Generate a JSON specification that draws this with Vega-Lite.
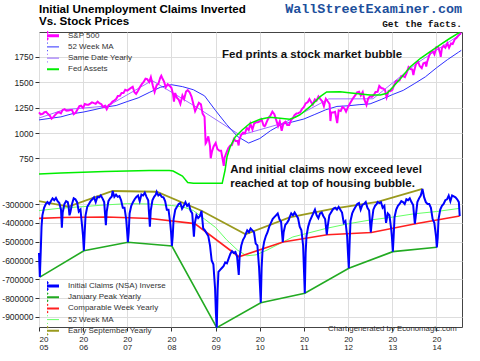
{
"$schema": "https://vega.github.io/schema/vega-lite/v6.json",
"width": 423, "height": 295,
"autosize": {"type": "none"},
"padding": {"left": 39, "top": 32, "right": 18, "bottom": 34},
"background": "white",
"config": {
 "font": "Liberation Sans",
 "view": {"stroke": "#444", "strokeWidth": 1},
 "axis": {"gridColor": "#dddddd", "gridWidth": 1, "domain": false, "tickColor": "#333", "tickSize": 4, "labelFont": "Liberation Sans", "labelFontSize": 8.5, "labelColor": "#222", "labelPadding": 2, "title": null}
},
"datasets": {
 "sp": [
{"date":"2005-01-01","value":1205},{"date":"2005-01-15","value":1184},{"date":"2005-02-01","value":1190},{"date":"2005-02-15","value":1206},{"date":"2005-03-01","value":1210},{"date":"2005-03-15","value":1190},{"date":"2005-04-01","value":1172},{"date":"2005-04-15","value":1142},{"date":"2005-05-01","value":1160},{"date":"2005-05-15","value":1180},{"date":"2005-06-01","value":1200},{"date":"2005-06-15","value":1206},{"date":"2005-07-01","value":1194},{"date":"2005-07-15","value":1228},{"date":"2005-08-01","value":1236},{"date":"2005-08-15","value":1220},{"date":"2005-09-01","value":1222},{"date":"2005-09-15","value":1228},{"date":"2005-10-01","value":1228},{"date":"2005-10-15","value":1186},{"date":"2005-11-01","value":1202},{"date":"2005-11-15","value":1232},{"date":"2005-12-01","value":1265},{"date":"2005-12-15","value":1270},
{"date":"2006-01-01","value":1248},{"date":"2006-01-15","value":1287},{"date":"2006-02-01","value":1280},{"date":"2006-02-15","value":1280},{"date":"2006-03-01","value":1291},{"date":"2006-03-15","value":1303},{"date":"2006-04-01","value":1295},{"date":"2006-04-15","value":1289},{"date":"2006-05-01","value":1310},{"date":"2006-05-15","value":1294},{"date":"2006-06-01","value":1285},{"date":"2006-06-15","value":1256},{"date":"2006-07-01","value":1270},{"date":"2006-07-15","value":1236},{"date":"2006-08-01","value":1277},{"date":"2006-08-15","value":1285},{"date":"2006-09-01","value":1311},{"date":"2006-09-15","value":1320},{"date":"2006-10-01","value":1335},{"date":"2006-10-15","value":1365},{"date":"2006-11-01","value":1367},{"date":"2006-11-15","value":1396},{"date":"2006-12-01","value":1396},{"date":"2006-12-15","value":1427},
{"date":"2007-01-01","value":1418},{"date":"2007-01-15","value":1431},{"date":"2007-02-01","value":1445},{"date":"2007-02-15","value":1456},{"date":"2007-03-01","value":1403},{"date":"2007-03-15","value":1387},{"date":"2007-04-01","value":1420},{"date":"2007-04-15","value":1452},{"date":"2007-05-01","value":1482},{"date":"2007-05-15","value":1501},{"date":"2007-06-01","value":1536},{"date":"2007-06-15","value":1532},{"date":"2007-07-01","value":1503},{"date":"2007-07-15","value":1552},{"date":"2007-08-01","value":1465},{"date":"2007-08-15","value":1406},{"date":"2007-09-01","value":1473},{"date":"2007-09-15","value":1484},{"date":"2007-10-01","value":1547},{"date":"2007-10-09","value":1565},{"date":"2007-10-15","value":1548},{"date":"2007-11-01","value":1508},{"date":"2007-11-15","value":1451},{"date":"2007-12-01","value":1481},{"date":"2007-12-15","value":1468},
{"date":"2008-01-01","value":1447},{"date":"2008-01-15","value":1380},{"date":"2008-01-22","value":1310},{"date":"2008-02-01","value":1395},{"date":"2008-02-15","value":1349},{"date":"2008-03-01","value":1331},{"date":"2008-03-15","value":1288},{"date":"2008-04-01","value":1370},{"date":"2008-04-15","value":1335},{"date":"2008-05-01","value":1409},{"date":"2008-05-15","value":1423},{"date":"2008-06-01","value":1400},{"date":"2008-06-15","value":1360},{"date":"2008-07-01","value":1284},{"date":"2008-07-15","value":1215},{"date":"2008-08-01","value":1260},{"date":"2008-08-15","value":1298},{"date":"2008-09-01","value":1283},{"date":"2008-09-15","value":1192},{"date":"2008-10-01","value":1161},{"date":"2008-10-10","value":899},{"date":"2008-10-15","value":908},{"date":"2008-11-01","value":968},{"date":"2008-11-15","value":873},{"date":"2008-11-21","value":752},{"date":"2008-12-01","value":816},{"date":"2008-12-15","value":868},
{"date":"2009-01-01","value":903},{"date":"2009-01-15","value":843},{"date":"2009-02-01","value":826},{"date":"2009-02-15","value":826},{"date":"2009-03-01","value":735},{"date":"2009-03-09","value":677},{"date":"2009-03-15","value":756},{"date":"2009-04-01","value":811},{"date":"2009-04-15","value":852},{"date":"2009-05-01","value":877},{"date":"2009-05-15","value":882},{"date":"2009-06-01","value":942},{"date":"2009-06-15","value":923},{"date":"2009-07-01","value":923},{"date":"2009-07-10","value":879},{"date":"2009-07-15","value":932},{"date":"2009-08-01","value":987},{"date":"2009-08-15","value":1004},{"date":"2009-09-01","value":998},{"date":"2009-09-15","value":1052},{"date":"2009-10-01","value":1030},{"date":"2009-10-15","value":1092},{"date":"2009-11-01","value":1036},{"date":"2009-11-15","value":1093},{"date":"2009-12-01","value":1108},{"date":"2009-12-15","value":1107},
{"date":"2010-01-01","value":1115},{"date":"2010-01-15","value":1136},{"date":"2010-02-01","value":1074},{"date":"2010-02-10","value":1068},{"date":"2010-02-15","value":1075},{"date":"2010-03-01","value":1115},{"date":"2010-03-15","value":1150},{"date":"2010-04-01","value":1178},{"date":"2010-04-15","value":1211},{"date":"2010-05-01","value":1187},{"date":"2010-05-15","value":1135},{"date":"2010-06-01","value":1070},{"date":"2010-06-15","value":1116},{"date":"2010-07-01","value":1023},{"date":"2010-07-15","value":1096},{"date":"2010-08-01","value":1112},{"date":"2010-08-15","value":1079},{"date":"2010-09-01","value":1080},{"date":"2010-09-15","value":1125},{"date":"2010-10-01","value":1146},{"date":"2010-10-15","value":1176},{"date":"2010-11-01","value":1193},{"date":"2010-11-15","value":1197},{"date":"2010-12-01","value":1206},{"date":"2010-12-15","value":1236},
{"date":"2011-01-01","value":1258},{"date":"2011-01-15","value":1293},{"date":"2011-02-01","value":1304},{"date":"2011-02-15","value":1336},{"date":"2011-03-01","value":1306},{"date":"2011-03-15","value":1281},{"date":"2011-04-01","value":1332},{"date":"2011-04-15","value":1319},{"date":"2011-05-01","value":1361},{"date":"2011-05-15","value":1337},{"date":"2011-06-01","value":1314},{"date":"2011-06-15","value":1265},{"date":"2011-07-01","value":1339},{"date":"2011-07-15","value":1316},{"date":"2011-08-01","value":1287},{"date":"2011-08-08","value":1119},{"date":"2011-08-15","value":1204},{"date":"2011-09-01","value":1204},{"date":"2011-09-15","value":1209},{"date":"2011-10-03","value":1099},{"date":"2011-10-15","value":1224},{"date":"2011-11-01","value":1218},{"date":"2011-11-15","value":1257},{"date":"2011-12-01","value":1244},{"date":"2011-12-15","value":1212},
{"date":"2012-01-01","value":1258},{"date":"2012-01-15","value":1289},{"date":"2012-02-01","value":1324},{"date":"2012-02-15","value":1350},{"date":"2012-03-01","value":1374},{"date":"2012-03-15","value":1402},{"date":"2012-04-01","value":1408},{"date":"2012-04-15","value":1370},{"date":"2012-05-01","value":1405},{"date":"2012-05-15","value":1330},{"date":"2012-06-01","value":1278},{"date":"2012-06-15","value":1342},{"date":"2012-07-01","value":1362},{"date":"2012-07-15","value":1356},{"date":"2012-08-01","value":1375},{"date":"2012-08-15","value":1405},{"date":"2012-09-01","value":1406},{"date":"2012-09-15","value":1465},{"date":"2012-10-01","value":1444},{"date":"2012-10-15","value":1440},{"date":"2012-11-01","value":1427},{"date":"2012-11-15","value":1353},{"date":"2012-12-01","value":1416},{"date":"2012-12-15","value":1413},
{"date":"2013-01-01","value":1426},{"date":"2013-01-15","value":1472},{"date":"2013-02-01","value":1513},{"date":"2013-02-15","value":1519},{"date":"2013-03-01","value":1518},{"date":"2013-03-15","value":1560},{"date":"2013-04-01","value":1562},{"date":"2013-04-15","value":1552},{"date":"2013-05-01","value":1597},{"date":"2013-05-15","value":1650},{"date":"2013-06-01","value":1631},{"date":"2013-06-15","value":1626},{"date":"2013-06-24","value":1573},{"date":"2013-07-01","value":1615},{"date":"2013-07-15","value":1680},{"date":"2013-08-01","value":1706},{"date":"2013-08-15","value":1661},{"date":"2013-09-01","value":1640},{"date":"2013-09-15","value":1688},{"date":"2013-10-01","value":1695},{"date":"2013-10-08","value":1655},{"date":"2013-10-15","value":1698},{"date":"2013-11-01","value":1762},{"date":"2013-11-15","value":1798},{"date":"2013-12-01","value":1806},{"date":"2013-12-15","value":1775},
{"date":"2014-01-01","value":1848},{"date":"2014-01-15","value":1848},{"date":"2014-02-01","value":1782},{"date":"2014-02-05","value":1751},{"date":"2014-02-15","value":1838},{"date":"2014-03-01","value":1859},{"date":"2014-03-15","value":1841},{"date":"2014-04-01","value":1885},{"date":"2014-04-15","value":1842},{"date":"2014-05-01","value":1883},{"date":"2014-05-15","value":1878},{"date":"2014-06-01","value":1924},{"date":"2014-06-15","value":1937},{"date":"2014-07-01","value":1960},{"date":"2014-07-15","value":1981},{"date":"2014-07-25","value":1978}
 ],
 "spma": [
{"date":"2005-01-01","value":1130},{"date":"2005-04-01","value":1145},{"date":"2005-07-01","value":1160},{"date":"2005-10-01","value":1190},{"date":"2006-01-01","value":1207},{"date":"2006-04-01","value":1230},{"date":"2006-07-01","value":1256},{"date":"2006-10-01","value":1272},{"date":"2007-01-01","value":1311},{"date":"2007-04-01","value":1347},{"date":"2007-07-01","value":1400},{"date":"2007-10-01","value":1451},{"date":"2008-01-01","value":1477},{"date":"2008-04-01","value":1458},{"date":"2008-07-01","value":1427},{"date":"2008-10-01","value":1367},{"date":"2009-01-01","value":1221},{"date":"2009-04-01","value":1086},{"date":"2009-07-01","value":966},{"date":"2009-10-01","value":902},{"date":"2010-01-01","value":947},{"date":"2010-04-01","value":1025},{"date":"2010-07-01","value":1086},{"date":"2010-10-01","value":1111},{"date":"2011-01-01","value":1139},{"date":"2011-04-01","value":1184},{"date":"2011-07-01","value":1230},{"date":"2011-10-01","value":1263},{"date":"2012-01-01","value":1269},{"date":"2012-04-01","value":1280},{"date":"2012-07-01","value":1288},{"date":"2012-10-01","value":1331},{"date":"2013-01-01","value":1379},{"date":"2013-04-01","value":1421},{"date":"2013-07-01","value":1486},{"date":"2013-10-01","value":1554},{"date":"2014-01-01","value":1643},{"date":"2014-04-01","value":1723},{"date":"2014-07-01","value":1796},{"date":"2014-07-25","value":1815}
 ],
 "spsame": [
{"date":"2004-07-26","value":1085},{"date":"2005-07-25","value":1230},{"date":"2006-07-25","value":1268},{"date":"2007-07-25","value":1518},{"date":"2008-07-25","value":1257},{"date":"2009-07-24","value":979},{"date":"2010-07-23","value":1102},{"date":"2011-07-25","value":1337},{"date":"2012-07-25","value":1338},{"date":"2013-07-25","value":1690},{"date":"2014-07-25","value":1978}
 ],
 "fed": [
{"date":"2005-01-01","value":699},{"date":"2005-07-01","value":723},{"date":"2006-07-01","value":760},{"date":"2007-07-01","value":784},{"date":"2007-12-15","value":784},{"date":"2008-01-15","value":772},{"date":"2008-04-01","value":650},{"date":"2008-05-15","value":492},{"date":"2008-07-01","value":473},{"date":"2009-02-24","value":473},{"date":"2009-03-20","value":796},{"date":"2009-04-05","value":1119},{"date":"2009-05-01","value":1362},{"date":"2009-06-13","value":1606},{"date":"2009-08-08","value":1768},{"date":"2009-10-12","value":1931},{"date":"2010-01-04","value":2029},{"date":"2010-03-25","value":2077},{"date":"2010-06-18","value":2053},{"date":"2010-09-05","value":2029},{"date":"2010-10-20","value":2077},{"date":"2010-11-28","value":2133},{"date":"2011-02-20","value":2335},{"date":"2011-05-15","value":2578},{"date":"2011-07-08","value":2692},{"date":"2011-10-27","value":2700},{"date":"2012-02-14","value":2661},{"date":"2012-07-01","value":2619},{"date":"2012-09-23","value":2619},{"date":"2012-11-18","value":2661},{"date":"2013-01-08","value":2821},{"date":"2013-03-22","value":3064},{"date":"2013-05-30","value":3307},{"date":"2013-08-22","value":3511},{"date":"2013-11-10","value":3672},{"date":"2014-01-30","value":3835},{"date":"2014-04-23","value":3998},{"date":"2014-07-12","value":4140}
 ],
 "claims": [
{"date":"2005-01-01","value":-560000},{"date":"2005-01-08","value":-688000},{"date":"2005-01-15","value":-560000},{"date":"2005-01-22","value":-420000},{"date":"2005-01-29","value":-360000},{"date":"2005-02-12","value":-320000},{"date":"2005-02-26","value":-300000},{"date":"2005-03-12","value":-290000},{"date":"2005-03-26","value":-300000},{"date":"2005-04-09","value":-285000},{"date":"2005-04-23","value":-270000},{"date":"2005-05-07","value":-280000},{"date":"2005-05-21","value":-268000},{"date":"2005-06-04","value":-285000},{"date":"2005-06-18","value":-295000},{"date":"2005-07-02","value":-330000},{"date":"2005-07-09","value":-426000},{"date":"2005-07-16","value":-345000},{"date":"2005-07-30","value":-300000},{"date":"2005-08-13","value":-285000},{"date":"2005-08-27","value":-290000},{"date":"2005-09-03","value":-314000},{"date":"2005-09-10","value":-360000},{"date":"2005-09-17","value":-345000},{"date":"2005-10-01","value":-300000},{"date":"2005-10-15","value":-270000},{"date":"2005-10-29","value":-275000},{"date":"2005-11-12","value":-290000},{"date":"2005-11-26","value":-340000},{"date":"2005-12-10","value":-330000},{"date":"2005-12-24","value":-420000},{"date":"2005-12-31","value":-470000},
{"date":"2006-01-07","value":-548000},{"date":"2006-01-14","value":-450000},{"date":"2006-01-21","value":-360000},{"date":"2006-02-04","value":-315000},{"date":"2006-02-18","value":-300000},{"date":"2006-03-04","value":-285000},{"date":"2006-03-18","value":-275000},{"date":"2006-04-01","value":-265000},{"date":"2006-04-15","value":-290000},{"date":"2006-04-29","value":-262000},{"date":"2006-05-13","value":-265000},{"date":"2006-05-27","value":-255000},{"date":"2006-06-10","value":-270000},{"date":"2006-06-24","value":-290000},{"date":"2006-07-08","value":-412000},{"date":"2006-07-15","value":-340000},{"date":"2006-07-29","value":-285000},{"date":"2006-08-12","value":-270000},{"date":"2006-08-26","value":-260000},{"date":"2006-09-02","value":-231000},{"date":"2006-09-16","value":-262000},{"date":"2006-09-30","value":-250000},{"date":"2006-10-14","value":-262000},{"date":"2006-10-28","value":-258000},{"date":"2006-11-11","value":-280000},{"date":"2006-11-25","value":-320000},{"date":"2006-12-09","value":-320000},{"date":"2006-12-23","value":-380000},{"date":"2006-12-30","value":-440000},
{"date":"2007-01-06","value":-503000},{"date":"2007-01-13","value":-450000},{"date":"2007-01-20","value":-350000},{"date":"2007-02-03","value":-310000},{"date":"2007-02-17","value":-290000},{"date":"2007-03-03","value":-275000},{"date":"2007-03-17","value":-262000},{"date":"2007-03-31","value":-255000},{"date":"2007-04-14","value":-285000},{"date":"2007-04-28","value":-250000},{"date":"2007-05-12","value":-255000},{"date":"2007-05-26","value":-240000},{"date":"2007-06-09","value":-262000},{"date":"2007-06-23","value":-280000},{"date":"2007-07-07","value":-420000},{"date":"2007-07-14","value":-335000},{"date":"2007-07-28","value":-280000},{"date":"2007-08-11","value":-262000},{"date":"2007-08-25","value":-250000},{"date":"2007-09-01","value":-235000},{"date":"2007-09-15","value":-255000},{"date":"2007-09-29","value":-248000},{"date":"2007-10-13","value":-262000},{"date":"2007-10-27","value":-265000},{"date":"2007-11-10","value":-285000},{"date":"2007-11-24","value":-330000},{"date":"2007-12-08","value":-330000},{"date":"2007-12-22","value":-400000},{"date":"2007-12-29","value":-450000},
{"date":"2008-01-05","value":-523000},{"date":"2008-01-12","value":-470000},{"date":"2008-01-19","value":-380000},{"date":"2008-02-02","value":-330000},{"date":"2008-02-16","value":-315000},{"date":"2008-03-01","value":-300000},{"date":"2008-03-15","value":-295000},{"date":"2008-03-29","value":-325000},{"date":"2008-04-12","value":-310000},{"date":"2008-04-26","value":-290000},{"date":"2008-05-10","value":-310000},{"date":"2008-05-24","value":-300000},{"date":"2008-06-07","value":-335000},{"date":"2008-06-21","value":-350000},{"date":"2008-07-05","value":-474000},{"date":"2008-07-12","value":-404000},{"date":"2008-07-26","value":-360000},{"date":"2008-08-09","value":-375000},{"date":"2008-08-23","value":-365000},{"date":"2008-09-06","value":-336000},{"date":"2008-09-20","value":-430000},{"date":"2008-10-04","value":-440000},{"date":"2008-10-18","value":-455000},{"date":"2008-11-01","value":-470000},{"date":"2008-11-15","value":-520000},{"date":"2008-11-29","value":-600000},{"date":"2008-12-13","value":-620000},{"date":"2008-12-27","value":-748000},
{"date":"2009-01-03","value":-880000},{"date":"2009-01-10","value":-957000},{"date":"2009-01-17","value":-760000},{"date":"2009-01-24","value":-660000},{"date":"2009-02-07","value":-650000},{"date":"2009-02-21","value":-640000},{"date":"2009-03-07","value":-630000},{"date":"2009-03-21","value":-610000},{"date":"2009-04-04","value":-615000},{"date":"2009-04-18","value":-590000},{"date":"2009-05-02","value":-565000},{"date":"2009-05-16","value":-550000},{"date":"2009-05-30","value":-560000},{"date":"2009-06-13","value":-555000},{"date":"2009-06-27","value":-580000},{"date":"2009-07-11","value":-677000},{"date":"2009-07-18","value":-580000},{"date":"2009-08-01","value":-520000},{"date":"2009-08-15","value":-490000},{"date":"2009-08-29","value":-475000},{"date":"2009-09-05","value":-461000},{"date":"2009-09-19","value":-440000},{"date":"2009-10-03","value":-450000},{"date":"2009-10-17","value":-430000},{"date":"2009-10-31","value":-440000},{"date":"2009-11-14","value":-450000},{"date":"2009-11-28","value":-510000},{"date":"2009-12-12","value":-520000},{"date":"2009-12-26","value":-640000},
{"date":"2010-01-09","value":-824000},{"date":"2010-01-16","value":-640000},{"date":"2010-01-23","value":-553000},{"date":"2010-02-06","value":-500000},{"date":"2010-02-20","value":-470000},{"date":"2010-03-06","value":-450000},{"date":"2010-03-20","value":-420000},{"date":"2010-04-03","value":-400000},{"date":"2010-04-17","value":-380000},{"date":"2010-05-01","value":-370000},{"date":"2010-05-15","value":-360000},{"date":"2010-05-29","value":-350000},{"date":"2010-06-12","value":-380000},{"date":"2010-06-26","value":-395000},{"date":"2010-07-10","value":-502000},{"date":"2010-07-17","value":-450000},{"date":"2010-07-31","value":-410000},{"date":"2010-08-14","value":-400000},{"date":"2010-08-28","value":-385000},{"date":"2010-09-04","value":-371000},{"date":"2010-09-18","value":-350000},{"date":"2010-10-02","value":-360000},{"date":"2010-10-16","value":-345000},{"date":"2010-10-30","value":-360000},{"date":"2010-11-13","value":-375000},{"date":"2010-11-27","value":-420000},{"date":"2010-12-11","value":-440000},{"date":"2010-12-25","value":-520000},
{"date":"2011-01-08","value":-774000},{"date":"2011-01-15","value":-560000},{"date":"2011-01-22","value":-470000},{"date":"2011-02-05","value":-420000},{"date":"2011-02-19","value":-390000},{"date":"2011-03-05","value":-370000},{"date":"2011-03-19","value":-350000},{"date":"2011-04-02","value":-330000},{"date":"2011-04-16","value":-360000},{"date":"2011-04-30","value":-375000},{"date":"2011-05-14","value":-350000},{"date":"2011-05-28","value":-345000},{"date":"2011-06-11","value":-365000},{"date":"2011-06-25","value":-380000},{"date":"2011-07-09","value":-463000},{"date":"2011-07-16","value":-420000},{"date":"2011-07-30","value":-360000},{"date":"2011-08-13","value":-345000},{"date":"2011-08-27","value":-330000},{"date":"2011-09-03","value":-324000},{"date":"2011-09-17","value":-320000},{"date":"2011-10-01","value":-330000},{"date":"2011-10-15","value":-315000},{"date":"2011-10-29","value":-330000},{"date":"2011-11-12","value":-345000},{"date":"2011-11-26","value":-400000},{"date":"2011-12-10","value":-390000},{"date":"2011-12-24","value":-470000},{"date":"2011-12-31","value":-560000},
{"date":"2012-01-07","value":-641000},{"date":"2012-01-14","value":-500000},{"date":"2012-01-21","value":-390000},{"date":"2012-02-04","value":-350000},{"date":"2012-02-18","value":-330000},{"date":"2012-03-03","value":-315000},{"date":"2012-03-17","value":-300000},{"date":"2012-03-31","value":-295000},{"date":"2012-04-14","value":-330000},{"date":"2012-04-28","value":-305000},{"date":"2012-05-12","value":-300000},{"date":"2012-05-26","value":-290000},{"date":"2012-06-09","value":-320000},{"date":"2012-06-23","value":-335000},{"date":"2012-07-07","value":-451000},{"date":"2012-07-14","value":-400000},{"date":"2012-07-28","value":-330000},{"date":"2012-08-11","value":-310000},{"date":"2012-08-25","value":-300000},{"date":"2012-09-01","value":-289000},{"date":"2012-09-15","value":-295000},{"date":"2012-09-29","value":-290000},{"date":"2012-10-13","value":-320000},{"date":"2012-10-27","value":-310000},{"date":"2012-11-10","value":-400000},{"date":"2012-11-24","value":-350000},{"date":"2012-12-08","value":-360000},{"date":"2012-12-22","value":-430000},{"date":"2012-12-29","value":-480000},
{"date":"2013-01-05","value":-553000},{"date":"2013-01-12","value":-470000},{"date":"2013-01-19","value":-370000},{"date":"2013-02-02","value":-330000},{"date":"2013-02-16","value":-310000},{"date":"2013-03-02","value":-300000},{"date":"2013-03-16","value":-285000},{"date":"2013-03-30","value":-290000},{"date":"2013-04-13","value":-300000},{"date":"2013-04-27","value":-275000},{"date":"2013-05-11","value":-280000},{"date":"2013-05-25","value":-270000},{"date":"2013-06-08","value":-290000},{"date":"2013-06-22","value":-305000},{"date":"2013-07-06","value":-405000},{"date":"2013-07-13","value":-370000},{"date":"2013-07-27","value":-290000},{"date":"2013-08-10","value":-270000},{"date":"2013-08-24","value":-255000},{"date":"2013-09-07","value":-220000},{"date":"2013-09-21","value":-265000},{"date":"2013-10-05","value":-290000},{"date":"2013-10-19","value":-300000},{"date":"2013-11-02","value":-300000},{"date":"2013-11-16","value":-320000},{"date":"2013-11-30","value":-380000},{"date":"2013-12-14","value":-400000},{"date":"2013-12-28","value":-470000},
{"date":"2014-01-04","value":-530000},{"date":"2014-01-11","value":-480000},{"date":"2014-01-18","value":-380000},{"date":"2014-02-01","value":-330000},{"date":"2014-02-15","value":-310000},{"date":"2014-03-01","value":-300000},{"date":"2014-03-15","value":-280000},{"date":"2014-03-29","value":-275000},{"date":"2014-04-12","value":-255000},{"date":"2014-04-26","value":-285000},{"date":"2014-05-10","value":-255000},{"date":"2014-05-24","value":-260000},{"date":"2014-06-07","value":-265000},{"date":"2014-06-21","value":-275000},{"date":"2014-07-05","value":-290000},{"date":"2014-07-12","value":-364000}
 ],
 "janpeak": [
{"date":"2005-01-08","value":-688000},{"date":"2006-01-07","value":-548000},{"date":"2007-01-06","value":-503000},{"date":"2008-01-05","value":-523000},{"date":"2009-01-10","value":-957000},{"date":"2010-01-09","value":-824000},{"date":"2011-01-08","value":-774000},{"date":"2012-01-07","value":-641000},{"date":"2013-01-05","value":-553000},{"date":"2014-01-04","value":-530000}
 ],
 "comp": [
{"date":"2004-07-12","value":-380000},{"date":"2005-07-12","value":-372000},{"date":"2006-07-12","value":-369000},{"date":"2007-07-12","value":-377000},{"date":"2008-07-12","value":-404000},{"date":"2009-07-12","value":-580000},{"date":"2010-07-12","value":-502000},{"date":"2011-07-12","value":-463000},{"date":"2012-07-12","value":-451000},{"date":"2013-07-12","value":-405000},{"date":"2014-07-12","value":-364000}
 ],
 "clma": [
{"date":"2005-01-01","value":-335000},{"date":"2005-07-01","value":-322000},{"date":"2006-01-01","value":-314000},{"date":"2006-07-01","value":-305000},{"date":"2007-01-01","value":-298000},{"date":"2007-07-01","value":-300000},{"date":"2008-01-01","value":-308000},{"date":"2008-04-01","value":-315000},{"date":"2008-07-01","value":-335000},{"date":"2008-10-01","value":-380000},{"date":"2009-01-01","value":-425000},{"date":"2009-04-01","value":-490000},{"date":"2009-07-01","value":-545000},{"date":"2009-09-15","value":-575000},{"date":"2009-12-01","value":-570000},{"date":"2010-03-01","value":-545000},{"date":"2010-07-01","value":-505000},{"date":"2010-10-01","value":-475000},{"date":"2011-01-01","value":-460000},{"date":"2011-07-01","value":-430000},{"date":"2012-01-01","value":-405000},{"date":"2012-07-01","value":-385000},{"date":"2013-01-01","value":-370000},{"date":"2013-07-01","value":-352000},{"date":"2014-01-01","value":-340000},{"date":"2014-07-12","value":-323000}
 ],
 "sept": [
{"date":"2004-09-04","value":-270000},{"date":"2005-09-03","value":-314000},{"date":"2006-09-02","value":-231000},{"date":"2007-09-01","value":-235000},{"date":"2008-09-06","value":-336000},{"date":"2009-09-05","value":-461000},{"date":"2010-09-04","value":-371000},{"date":"2011-09-03","value":-324000},{"date":"2012-09-01","value":-289000},{"date":"2013-09-07","value":-220000}
 ]
},
"layer": [
 {
  "layer": [
   {"data": {"name": "spsame"}, "mark": {"type": "line", "strokeWidth": 0.9, "clip": true},
    "encoding": {
     "x": {"field": "date", "type": "temporal", "scale": {"type": "utc", "nice": false, "domain": [{"year": 2005, "month": "jan", "date": 1, "utc": true}, {"year": 2014, "month": "jul", "date": 31, "utc": true}]},
       "axis": {"tickCount": {"interval": "year", "step": 1}, "grid": true, "labelExpr": "[slice(utcFormat(datum.value, '%Y'), 0, 2), slice(utcFormat(datum.value, '%Y'), 2)]", "labelLineHeight": 8.5, "labelPadding": 4, "labelFontSize": 8}},
     "y": {"field": "value", "type": "quantitative", "scale": {"domain": [-910, 1996], "nice": false, "zero": false},
       "axis": {"values": [750, 1000, 1250, 1500, 1750], "labelExpr": "'' + datum.value", "grid": true}},
     "color": {"datum": "Same Date Yearly", "scale": {"domain": ["S&P 500", "52 Week MA", "Same Date Yearly", "Fed Assets"], "range": ["#ff00ff", "#2f2fff", "#9060ff", "#00ee00"]},
       "legend": {"orient": "none", "legendX": 8, "legendY": -1.3, "title": null, "padding": 0, "rowPadding": 1.2, "clipHeight": 10, "symbolSize": 100, "labelOffset": 13, "labelFontSize": 8, "labelColor": "#333", "labelFont": "Liberation Sans",
         "symbolType": "M1.6,0L-1.6,0M-0.6,-0.85L-1.6,0L-0.6,0.85",
         "encode": {"symbols": {"update": {"shape": {"signal": "datum.value === 'Fed Assets' ? 'M-1.6,0L1.6,0' : 'M1.6,0L-1.6,0M-0.6,-0.85L-1.6,0L-0.6,0.85'"}, "strokeWidth": {"signal": "datum.value === 'S&P 500' ? 3 : datum.value === 'Fed Assets' ? 2 : 1"}, "fill": {"value": "transparent"}}}}}}
    }},
   {"data": {"name": "spma"}, "mark": {"type": "line", "strokeWidth": 1},
    "encoding": {"x": {"field": "date", "type": "temporal"}, "y": {"field": "value", "type": "quantitative"}, "color": {"datum": "52 Week MA"}}},
   {"data": {"name": "sp"}, "mark": {"type": "line", "strokeWidth": 2},
    "encoding": {"x": {"field": "date", "type": "temporal"}, "y": {"field": "value", "type": "quantitative"}, "color": {"datum": "S&P 500"}}},
   {"data": {"values": [{}]}, "mark": {"type": "text", "text": ["Initial Unemployment Claims Inverted", "Vs. Stock Prices"], "lineHeight": 11.7, "align": "left", "baseline": "alphabetic", "fontSize": 11.6, "fontWeight": "bold", "font": "Liberation Sans", "color": "#000"},
    "encoding": {"x": {"datum": {"year": 2005, "month": "jan", "date": 1, "utc": true}, "type": "temporal"}, "y": {"datum": 2180, "type": "quantitative"}}},
   {"data": {"values": [{}]}, "mark": {"type": "text", "text": "Fed prints a stock market bubble", "align": "left", "baseline": "alphabetic", "fontSize": 11.5, "fontWeight": "bold", "font": "Liberation Sans", "color": "#111"},
    "encoding": {"x": {"datum": {"year": 2009, "month": "feb", "date": 22, "utc": true}, "type": "temporal"}, "y": {"datum": 1737, "type": "quantitative"}}},
   {"data": {"values": [{}]}, "mark": {"type": "text", "text": ["And initial claims now exceed level", "reached at top of housing bubble."], "lineHeight": 14.3, "align": "left", "baseline": "alphabetic", "fontSize": 11.5, "fontWeight": "bold", "font": "Liberation Sans", "color": "#111"},
    "encoding": {"x": {"datum": {"year": 2009, "month": "may", "date": 1, "utc": true}, "type": "temporal"}, "y": {"datum": 610, "type": "quantitative"}}},
   {"data": {"values": [{}]}, "mark": {"type": "text", "text": "WallStreetExaminer.com", "align": "right", "baseline": "alphabetic", "fontSize": 13.4, "fontWeight": "bold", "font": "Liberation Mono", "color": "#1d4f9c"},
    "encoding": {"x": {"datum": {"year": 2014, "month": "jul", "date": 31, "utc": true}, "type": "temporal"}, "y": {"datum": 2180, "type": "quantitative"}}},
   {"data": {"values": [{}]}, "mark": {"type": "text", "text": "Get the facts.", "align": "right", "baseline": "alphabetic", "fontSize": 9.5, "fontWeight": "bold", "font": "Liberation Mono", "color": "#111"},
    "encoding": {"x": {"datum": {"year": 2014, "month": "jul", "date": 31, "utc": true}, "type": "temporal"}, "y": {"datum": 2048, "type": "quantitative"}}}
  ]
 },
 {"data": {"name": "fed"}, "mark": {"type": "line", "strokeWidth": 1.5},
  "encoding": {"x": {"field": "date", "type": "temporal"}, "y": {"field": "value", "type": "quantitative", "scale": {"domain": [-3020, 4150], "nice": false, "zero": false}, "axis": null}, "color": {"datum": "Fed Assets"}}},
 {
  "layer": [
   {"data": {"name": "clma"}, "mark": {"type": "line", "strokeWidth": 1},
    "encoding": {
     "x": {"field": "date", "type": "temporal"},
     "y": {"field": "value", "type": "quantitative", "scale": {"domain": [-953100, 613300], "nice": false, "zero": false},
       "axis": {"orient": "left", "values": [-300000, -400000, -500000, -600000, -700000, -800000, -900000], "labelExpr": "'' + datum.value", "grid": true}},
     "stroke": {"datum": "52 Week MA", "scale": {"domain": ["Initial Claims (NSA) Inverse", "January Peak Yearly", "Comparable Week Yearly", "52 Week MA", "Early September Yearly"], "range": ["#0000ff", "#22aa22", "#ff2020", "#66ff66", "#9a9a1e"]},
       "legend": {"orient": "none", "legendX": 8, "legendY": 249, "title": null, "padding": 0, "rowPadding": 1.2, "clipHeight": 10, "symbolSize": 100, "labelOffset": 13, "labelFontSize": 8, "labelColor": "#333", "labelFont": "Liberation Sans",
         "symbolType": "M1.6,0L-1.6,0M-0.6,-0.85L-1.6,0L-0.6,0.85",
         "encode": {"symbols": {"update": {"shape": {"value": "M1.6,0L-1.6,0M-0.6,-0.85L-1.6,0L-0.6,0.85"}, "strokeWidth": {"signal": "datum.value === 'Initial Claims (NSA) Inverse' ? 3 : datum.value === '52 Week MA' ? 1 : 2"}, "fill": {"value": "transparent"}}}}}}
    }},
   {"data": {"name": "comp"}, "mark": {"type": "line", "strokeWidth": 1.6, "clip": true},
    "encoding": {"x": {"field": "date", "type": "temporal"}, "y": {"field": "value", "type": "quantitative"}, "stroke": {"datum": "Comparable Week Yearly"}}},
   {"data": {"name": "janpeak"}, "mark": {"type": "line", "strokeWidth": 1.6},
    "encoding": {"x": {"field": "date", "type": "temporal"}, "y": {"field": "value", "type": "quantitative"}, "stroke": {"datum": "January Peak Yearly"}}},
   {"data": {"name": "sept"}, "mark": {"type": "line", "strokeWidth": 1.8, "clip": true},
    "encoding": {"x": {"field": "date", "type": "temporal"}, "y": {"field": "value", "type": "quantitative"}, "stroke": {"datum": "Early September Yearly"}}},
   {"data": {"name": "claims"}, "mark": {"type": "line", "strokeWidth": 2},
    "encoding": {"x": {"field": "date", "type": "temporal"}, "y": {"field": "value", "type": "quantitative"}, "stroke": {"datum": "Initial Claims (NSA) Inverse"}}},
   {"data": {"values": [{}]}, "mark": {"type": "text", "text": "Chart generated by Economagic.com", "align": "right", "baseline": "alphabetic", "fontSize": 7.8, "font": "Liberation Sans", "color": "#333"},
    "encoding": {"x": {"datum": {"year": 2014, "month": "jun", "date": 18, "utc": true}, "type": "temporal"}, "y": {"datum": -974300, "type": "quantitative"}}}
  ]
 }
],
"resolve": {"scale": {"y": "independent"}}
}
